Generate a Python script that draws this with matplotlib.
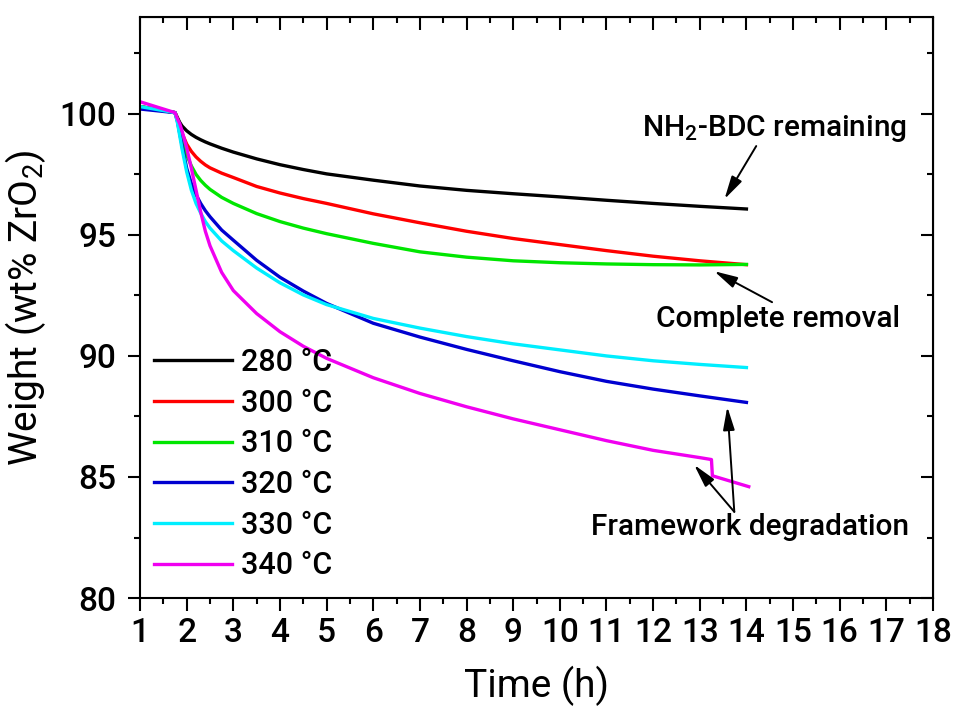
import matplotlib
matplotlib.use("Agg")
import matplotlib.pyplot as plt
from matplotlib.ticker import MultipleLocator

plt.rcParams['font.family'] = ['Roboto', 'DejaVu Sans']
plt.rcParams['font.weight'] = 'medium'
plt.rcParams['mathtext.default'] = 'regular'

# ---- data ----
time_h = [1.0, 1.75, 1.8, 1.85, 1.9, 2.0, 2.1, 2.2, 2.3, 2.4, 2.5, 2.75,
          3.0, 3.5, 4.0, 4.5, 5.0, 6.0, 7.0, 8.0, 9.0, 10.0, 11.0, 12.0,
          13.0, 14.0]
w_280 = [100.3, 100.05, 99.85, 99.65, 99.5, 99.3, 99.15, 99.03, 98.93, 98.84,
         98.76, 98.58, 98.42, 98.14, 97.9, 97.7, 97.52, 97.26, 97.02, 96.84,
         96.7, 96.57, 96.43, 96.3, 96.18, 96.07]
w_300 = [100.3, 100.05, 99.8, 99.5, 99.2, 98.75, 98.45, 98.22, 98.04, 97.89,
         97.77, 97.55, 97.37, 97.0, 96.73, 96.5, 96.3, 95.87, 95.5, 95.15,
         94.85, 94.6, 94.35, 94.12, 93.93, 93.77]
w_310 = [100.3, 100.05, 99.75, 99.35, 98.95, 98.3, 97.85, 97.5, 97.25, 97.05,
         96.88, 96.55, 96.3, 95.88, 95.55, 95.28, 95.05, 94.65, 94.3, 94.08,
         93.93, 93.85, 93.8, 93.77, 93.76, 93.78]
w_320 = [100.2, 100.05, 99.7, 99.2, 98.7, 97.75, 97.12, 96.66, 96.3, 96.0,
         95.75, 95.2, 94.78, 93.95, 93.25, 92.68, 92.17, 91.35, 90.78, 90.27,
         89.8, 89.35, 88.95, 88.63, 88.35, 88.08]
w_330 = [100.3, 100.05, 99.65, 99.1, 98.55, 97.6, 96.85, 96.3, 95.9, 95.55,
         95.28, 94.75, 94.35, 93.63, 93.02, 92.52, 92.12, 91.55, 91.15, 90.8,
         90.5, 90.25, 90.0, 89.8, 89.65, 89.52]
time_340 = [1.0, 1.75, 1.8, 1.85, 1.9, 2.0, 2.1, 2.2, 2.3, 2.4, 2.5, 2.75,
            3.0, 3.5, 4.0, 4.5, 5.0, 6.0, 7.0, 8.0, 9.0, 10.0, 11.0, 12.0,
            13.0, 13.25, 13.27, 14.05]
w_340 = [100.5, 100.05, 99.8, 99.6, 99.3, 98.6, 97.75, 96.85, 95.95, 95.15,
         94.55, 93.45, 92.7, 91.75, 91.0, 90.4, 89.9, 89.1, 88.45, 87.9,
         87.4, 86.95, 86.5, 86.1, 85.8, 85.72, 85.05, 84.6]

labels = ['280 °C', '300 °C', '310 °C', '320 °C', '330 °C', '340 °C']
colors = ['#000000', '#ff0000', '#00e600', '#0000d0', '#00eeff', '#f000f0']
series = [(time_h, w_280), (time_h, w_300), (time_h, w_310),
          (time_h, w_320), (time_h, w_330), (time_340, w_340)]

x_ticks = list(range(1, 19))
y_ticks = [80, 85, 90, 95, 100]

fig = plt.figure(figsize=(9.54, 7.24), dpi=100)
ax = fig.add_axes([0.1468, 0.174, 0.978 - 0.1468, 0.9765 - 0.174])

for (t, w), lab, c in zip(series, labels, colors):
    ax.plot(t, w, color=c, lw=2.4, label=lab, solid_joinstyle='round')

ax.set_xlim(1, 18)
ax.set_ylim(80, 104)
ax.set_xticks(x_ticks)
ax.set_yticks(y_ticks)
ax.xaxis.set_minor_locator(MultipleLocator(0.5))
ax.yaxis.set_minor_locator(MultipleLocator(2.5))

for s in ax.spines.values():
    s.set_linewidth(1.5)

ax.tick_params(axis='both', which='major', direction='out', length=9, width=1.5,
               labelsize=24)
ax.tick_params(axis='x', which='major', pad=5)
ax.tick_params(axis='y', which='major', pad=8)
ax.tick_params(axis='both', which='minor', direction='out', length=4.5, width=1.5)

# inward ticks on top and right
axt = ax.secondary_xaxis('top')
axt.set_xticks(x_ticks)
axt.xaxis.set_minor_locator(MultipleLocator(0.5))
axt.tick_params(which='major', direction='in', length=9, width=1.5, labeltop=False)
axt.tick_params(which='minor', direction='in', length=4.5, width=1.5)
axr = ax.secondary_yaxis('right')
axr.set_yticks(y_ticks)
axr.yaxis.set_minor_locator(MultipleLocator(2.5))
axr.tick_params(which='major', direction='in', length=9, width=1.5, labelright=False)
axr.tick_params(which='minor', direction='in', length=4.5, width=1.5)

ax.set_xlabel('Time (h)', fontsize=28, labelpad=12)
ax.set_ylabel('Weight (wt% ZrO$_2$)', fontsize=28, labelpad=8)

leg = ax.legend(loc='upper left', bbox_to_anchor=(0.018, 0.43), frameon=False,
                fontsize=22, handlelength=2.55, handletextpad=0.3,
                labelspacing=0.38, borderpad=0, borderaxespad=0)

arrow = dict(arrowstyle='-|>,head_length=1.0,head_width=0.25', lw=1.4,
             color='k', mutation_scale=14, shrinkA=0, shrinkB=0)
ax.annotate('', xy=(13.53, 96.48), xytext=(14.21, 98.67), arrowprops=arrow)
ax.annotate('', xy=(13.31, 93.5), xytext=(14.55, 92.22), arrowprops=arrow)
ax.annotate('', xy=(12.88, 85.5), xytext=(13.74, 83.56), arrowprops=arrow)
ax.annotate('', xy=(13.59, 87.9), xytext=(13.74, 83.56), arrowprops=arrow)

ax.text(14.6, 99.38, 'NH$_2$-BDC remaining', fontsize=21.5, ha='center', va='center')
ax.text(14.68, 91.51, 'Complete removal', fontsize=21.5, ha='center', va='center')
ax.text(14.08, 82.94, 'Framework degradation', fontsize=21.5, ha='center', va='center')

fig.savefig('out.png', dpi=100)
